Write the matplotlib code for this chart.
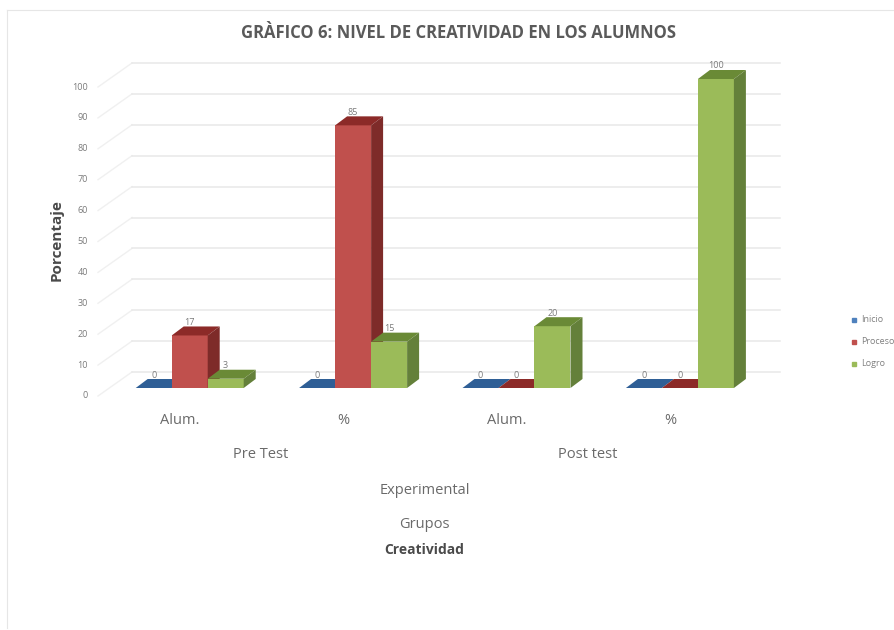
import matplotlib
matplotlib.use("Agg")
import matplotlib.pyplot as plt
from matplotlib.patches import Polygon
from matplotlib.lines import Line2D

plt.rcParams['font.family'] = ['Open Sans', 'DejaVu Sans']

title = "GRÀFICO 6: NIVEL DE CREATIVIDAD EN LOS ALUMNOS"
categories = ["Alum.", "%", "Alum.", "%"]
tests = ["Pre Test", "Post test"]
series = ["Inicio", "Proceso", "Logro"]
inicio = [0, 0, 0, 0]
proceso = [17, 85, 0, 0]
logro = [3, 15, 20, 100]
yticks = list(range(0, 101, 10))

front = ["#4F81BD", "#C0504D", "#9BBB59"]
top = ["#2F5F96", "#8C2A28", "#6A8A36"]
side = ["#2A4F7C", "#7E2B29", "#64803A"]

W, H = 895, 630
PX_X = 163.4      # px per category
PX_Y = 3.09       # px per value unit
X0, Y0 = 189.7, 388.0
BAR = 36 / PX_X
DX, DY = 12 / PX_X, 9 / PX_Y

fig = plt.figure(figsize=(W / 100, H / 100), dpi=100, facecolor="white")
ax = fig.add_axes([0, 0, 1, 1])
ax.set_xlim(-X0 / PX_X, (W - X0) / PX_X)
ax.set_ylim((Y0 - H) / PX_Y, Y0 / PX_Y)
ax.axis("off")

def px(x, y):
    return (x - X0) / PX_X, (Y0 - y) / PX_Y

# chart-area frame
fx = lambda x: x / W
fy = lambda y: 1 - y / H
fig.add_artist(Line2D([fx(7), fx(7)], [fy(10), fy(628)], color="#E6E6E6", lw=0.8))
fig.add_artist(Line2D([fx(7), fx(893)], [fy(10), fy(10)], color="#E6E6E6", lw=0.8))

# walls and gridlines
gx0, _ = px(132, 0)
gx1, _ = px(780, 0)
wx0, _ = px(98, 0)
back = 16 / PX_Y
fr = -8 / PX_Y
for v in yticks:
    ax.plot([wx0, gx0], [v + fr, v + back], color="#F0F0F0", lw=1.0, zorder=1)
    ax.plot([gx0, gx1], [v + back, v + back], color="#E8E8E8", lw=1.1, zorder=1)
    ax.text(wx0 - 10 / PX_X, v + fr, str(v), ha="right", va="center", fontsize=6.5, color="#7A7A7A")

# bars
all_vals = [inicio, proceso, logro]
for s, vals in enumerate(all_vals):
    for c, v in enumerate(vals):
        xc = c + (s - 1) * BAR
        l, r = xc - BAR / 2, xc + BAR / 2
        z = 3 + c * 3 + s * 3
        ax.bar(xc, v, width=BAR, color=front[s], zorder=z, linewidth=0)
        ax.add_patch(Polygon([(l, v), (r, v), (r + DX, v + DY), (l + DX, v + DY)],
                             closed=True, fc=top[s], ec="none", zorder=z))
        if v > 0:
            ax.add_patch(Polygon([(r, 0), (r + DX, DY), (r + DX, v + DY), (r, v)],
                                 closed=True, fc=side[s], ec="none", zorder=z))
        ax.text(xc, v + 13 / PX_Y, str(v), ha="center", va="center", fontsize=6.5,
                color="#7A7A7A", zorder=50)

# category labels
for c, lab in enumerate(categories):
    x, y = px(180 + c * 163.5, 421)
    ax.text(x, y, lab, ha="center", va="center", fontsize=10.5, color="#6A6A6A")
for i, lab in enumerate(tests):
    x, y = px(261 + i * 327, 454)
    ax.text(x, y, lab, ha="center", va="center", fontsize=10.5, color="#6A6A6A")
x, y = px(425, 490)
ax.text(x, y, "Experimental", ha="center", va="center", fontsize=10.5, color="#6A6A6A")
x, y = px(424, 525)
ax.text(x, y, "Grupos", ha="center", va="center", fontsize=10.5, color="#6A6A6A")
x, y = px(424, 550)
ax.text(x, y, "Creatividad", ha="center", va="center", fontsize=10, color="#4A4A4A", fontweight="bold")
x, y = px(57, 240)
ax.text(x, y, "Porcentaje", ha="center", va="center", rotation=90, fontsize=11, color="#4A4A4A", fontweight="bold")
x, y = px(459, 33)
ax.text(x, y, title, ha="center", va="center", fontsize=12, color="#5A5A5A", fontweight="bold")

# legend
for i, (name, y_px) in enumerate(zip(series, [320, 342, 364])):
    x, y = px(854, y_px)
    ax.plot([x], [y], marker="s", ms=3.2, color=front[i], ls="none", zorder=60)
    xt, _ = px(861, 0)
    ax.text(xt, y, name, ha="left", va="center", fontsize=6.5, color="#808080", clip_on=True)

fig.savefig("out.png", dpi=100, facecolor="white")
